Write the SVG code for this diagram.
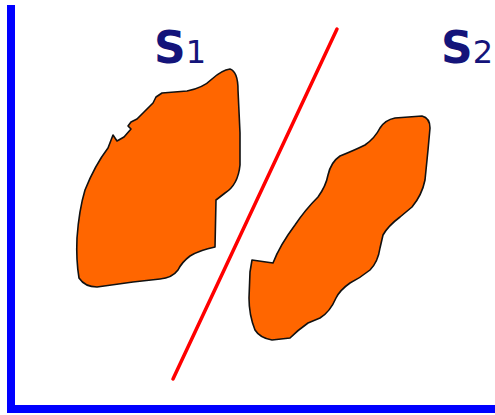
<svg xmlns="http://www.w3.org/2000/svg" width="495" height="415" viewBox="0 0 495 415">
<style>
.axis{stroke:#0000ff;stroke-width:8;fill:none}
.sep{stroke:#ff0000;stroke-width:3.5;stroke-linecap:round;fill:none}
.blob{fill:#ff6600;stroke:#111;stroke-width:1.6;stroke-linejoin:round}
.lbl{font-family:"DejaVu Sans",Verdana,sans-serif;fill:#14147a}
.big{font-size:44px;font-weight:bold}
.sub{font-size:32px}
</style>
<g id="axes">
<path class="axis" d="M11,5 L11,409 L495,409"/>
</g>
<g id="connectors">
<line class="sep" x1="337" y1="29" x2="173" y2="379"/>
</g>
<g id="s1">
<path class="blob" d="M230,69 C236,71 238,80 238,90 L240,133 L240,165 Q238,185 225,193 L216,200 L215,247 Q200,250 190,256 Q182,262 178,270 Q172,278 160,279 L133,282 L97,287 Q85,287 79,278 Q76,260 77,238 Q79,210 85,190 Q95,165 108,148 L113,135 L117,141 L124,137 L131,129 L128,126 L131,122 L137,119 L144,112 L150,106 L153,103 L156,97 L162,93 L187,91 Q203,88 212,79 Q222,70 230,69 Z"/>
<text class="lbl" x="154" y="63"><tspan class="big">S</tspan><tspan class="sub">1</tspan></text>
</g>
<g id="s2">
<path class="blob" d="M395,118 L422,116 Q430,118 430,128 L428,150 L425,180 Q422,195 412,207 L400,217 Q388,226 383,235 L380,248 Q378,262 370,270 Q360,278 350,283 Q340,290 336,298 Q330,312 320,318 L308,323 Q298,330 290,338 L272,340 Q260,338 255,330 Q249,315 249,298 L250,272 L252,260 L273,263 Q280,245 295,225 Q305,210 318,197 Q326,186 328,175 Q331,162 340,156 Q355,150 365,145 Q375,138 380,128 Q385,120 395,118 Z"/>
<text class="lbl" x="441" y="63"><tspan class="big">S</tspan><tspan class="sub">2</tspan></text>
</g>
</svg>
